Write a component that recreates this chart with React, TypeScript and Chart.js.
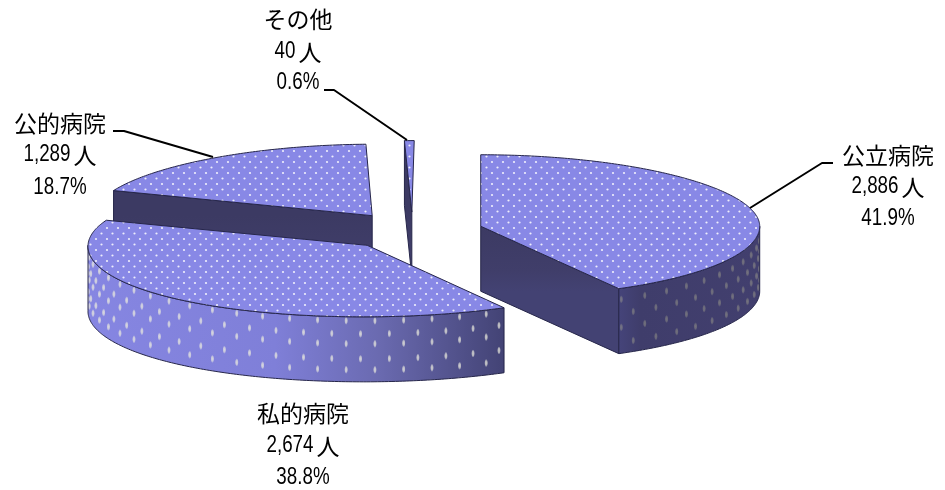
import React, { useEffect, useRef } from "react";
import Chart from "chart.js/auto";

// Staff counts by employer type
const categories = ["公立病院", "私的病院", "公的病院", "その他"];
const headcounts = [2886, 2674, 1289, 40];
const shareLabels = ["41.9%", "38.8%", "18.7%", "0.6%"];

// Label placement: centre x and the y of each of the three lines
const labelCentres = [888, 303, 60, 298];
const labelRows = [
  [155, 187, 219],
  [413, 446, 478],
  [123, 155, 188],
  [19, 52, 83],
];
const leaderLines = [
  [[833, 163], [822, 163], [750, 208]],
  [],
  [[113, 131], [124, 131], [213, 157]],
  [[324, 90], [334, 90], [407, 140]],
];

// 3D projection of the pie
const RX = 279;
const RY = 71.5;
const EXPLODE = 70;
const EXPLODE_TILT = 0.27;
const DEPTH = 65;
const VANISH_X = 480;
const CONVERGE = 0.023;

const CJK_FONT = '23px "Noto Sans CJK JP", sans-serif';
const DIGIT_FONT = '23.5px "Liberation Sans", sans-serif';
const DIGIT_SQUEEZE = 0.8;

function makeDotPattern(ctx: CanvasRenderingContext2D) {
  const tile = document.createElement("canvas");
  tile.width = 11;
  tile.height = 11;
  const t = tile.getContext("2d")!;
  t.fillStyle = "#8888e6";
  t.fillRect(0, 0, 11, 11);
  t.fillStyle = "rgba(255,255,255,0.85)";
  for (const [x, y] of [[2.5, 2.5], [8, 8]]) {
    t.beginPath();
    t.ellipse(x, y, 1.1, 0.9, 0, 0, Math.PI * 2);
    t.fill();
  }
  return ctx.createPattern(tile, "repeat")!;
}

// Draws one centred label line: squeezed Latin digits followed by any CJK run
function drawLabelLine(ctx: CanvasRenderingContext2D, text: string, cx: number, y: number) {
  const m = text.match(/^([0-9.,%]*)(.*)$/)!;
  const latin = m[1];
  const cjk = m[2];
  ctx.font = DIGIT_FONT;
  const lw = ctx.measureText(latin).width * DIGIT_SQUEEZE;
  ctx.font = CJK_FONT;
  const cw = ctx.measureText(cjk).width;
  const gap = latin && cjk ? 3 : 0;
  const left = cx - (lw + gap + cw) / 2;
  ctx.textAlign = "left";
  ctx.textBaseline = "middle";
  if (latin) {
    ctx.save();
    ctx.font = DIGIT_FONT;
    ctx.translate(left, y);
    ctx.scale(DIGIT_SQUEEZE, 1);
    ctx.fillText(latin, 0, 0);
    ctx.restore();
  }
  if (cjk) {
    ctx.font = CJK_FONT;
    ctx.fillText(cjk, left + lw + gap, y);
  }
}

const pie3d = {
  id: "pie3d",
  beforeDatasetsDraw(chart: any) {
    const ctx: CanvasRenderingContext2D = chart.ctx;
    const arcs = chart.getDatasetMeta(0).data;
    const pattern = makeDotPattern(ctx);
    const order = arcs
      .map((_: any, i: number) => i)
      .sort((a: number, b: number) => {
        const m = (k: number) => (arcs[k].startAngle + arcs[k].endAngle) / 2;
        return Math.sin(m(a)) - Math.sin(m(b));
      });

    for (const i of order) {
      const arc = arcs[i];
      const { startAngle: a0, endAngle: a1, x: cx, y: cy, outerRadius: R } = arc;
      const sx = RX / R;
      const sy = RY / R;
      const mid = (a0 + a1) / 2;
      const ax = cx + Math.cos(mid) * EXPLODE;
      const ay = cy + Math.sin(mid) * EXPLODE * EXPLODE_TILT;

      // Far points lean slightly toward the vanishing column; height only moves y
      const project = (x: number, y: number, h: number): [number, number] => {
        const d = (y - cy) / RY;
        const f = 1 + CONVERGE * d * Math.abs(d);
        return [VANISH_X + (x - VANISH_X) * f, y + h];
      };
      const rim = (a: number, h = 0) =>
        project(ax + Math.cos(a) * R * sx, ay + Math.sin(a) * R * sy, h);
      const apex = (h = 0) => project(ax, ay, h);

      const trace = (pts: [number, number][]) => {
        ctx.beginPath();
        pts.forEach(([x, y], k) => (k ? ctx.lineTo(x, y) : ctx.moveTo(x, y)));
        ctx.closePath();
      };
      const sweep = (from: number, to: number, h = 0) => {
        const n = Math.max(2, Math.ceil(Math.abs(to - from) * 80));
        const out: [number, number][] = [];
        for (let k = 0; k <= n; k++) out.push(rim(from + ((to - from) * k) / n, h));
        return out;
      };

      ctx.lineJoin = "round";
      ctx.lineWidth = 1;
      ctx.strokeStyle = "#26264a";

      // Flat faces left by the cut, where they turn toward the viewer
      const cuts: number[] = [];
      if (Math.sin(a0 - Math.PI / 2) > 0.001) cuts.push(a0);
      if (Math.sin(a1 + Math.PI / 2) > 0.001) cuts.push(a1);
      for (const a of cuts) {
        trace([apex(), rim(a), rim(a, DEPTH), apex(DEPTH)]);
        const g = ctx.createLinearGradient(0, apex()[1], 0, apex(DEPTH)[1]);
        g.addColorStop(0, "#3c3a63");
        g.addColorStop(0.7, "#403e6a");
        g.addColorStop(1, "#434273");
        ctx.fillStyle = g;
        ctx.fill();
        ctx.stroke();
      }

      // Outer wall of the slice: the part of the rim on the near side
      const from = Math.max(a0, 0);
      const to = Math.min(a1, Math.PI);
      if (to > from) {
        const top = sweep(from, to);
        const bottom = sweep(to, from, DEPTH);
        ctx.save();
        trace([...top, ...bottom]);
        const xs = top.map((p) => p[0]);
        const xMin = Math.min(...xs);
        const xMax = Math.max(...xs);
        const g = ctx.createLinearGradient(xMin, 0, xMax, 0);
        const lit = i === 1;
        if (lit) {
          g.addColorStop(0, "#8686e2");
          g.addColorStop(0.45, "#7f7fd8");
          g.addColorStop(0.7, "#6a6ab0");
          g.addColorStop(1, "#434375");
        } else {
          g.addColorStop(0, "#45447a");
          g.addColorStop(0.15, "#3f3d6b");
          g.addColorStop(1, "#423f6e");
        }
        ctx.fillStyle = g;
        ctx.fill();
        ctx.save();
        ctx.clip();
        // Stretched dots following the curve of the wall
        const step = 0.05;
        let col = 0;
        for (let a = to - 0.01; a > from; a -= step, col++) {
          const rows = lit
            ? col % 2 ? [17, 42] : [4, 27, 53]
            : col % 2 ? [25, 54] : [11, 39];
          for (const dy of rows) {
            const [x, y] = rim(a, dy);
            const c = lit ? "236,236,222" : "190,190,150";
            const al = lit ? 0.8 : 0.4;
            ctx.save();
            ctx.translate(x, y);
            ctx.scale(1, 2.2);
            const d = ctx.createRadialGradient(0, 0, 0, 0, 0, 1.9);
            d.addColorStop(0, `rgba(${c},${al})`);
            d.addColorStop(0.55, `rgba(${c},${al * 0.8})`);
            d.addColorStop(1, `rgba(${c},0)`);
            ctx.fillStyle = d;
            ctx.beginPath();
            ctx.arc(0, 0, 1.9, 0, Math.PI * 2);
            ctx.fill();
            ctx.restore();
          }
        }
        ctx.restore();
        trace([...top, ...bottom]);
        ctx.stroke();
        ctx.restore();
      }

      // Top of the slice
      trace([apex(), ...sweep(a0, a1)]);
      ctx.fillStyle = pattern;
      ctx.fill();
      ctx.stroke();
    }
    return false;
  },
  afterDraw(chart: any) {
    const ctx: CanvasRenderingContext2D = chart.ctx;
    ctx.save();
    // Leader lines
    ctx.strokeStyle = "#000";
    ctx.lineWidth = 2;
    for (const line of leaderLines) {
      if (!line.length) continue;
      ctx.beginPath();
      line.forEach(([x, y], k) => (k ? ctx.lineTo(x, y) : ctx.moveTo(x, y)));
      ctx.stroke();
    }
    // Three-line labels: name, headcount, share
    ctx.fillStyle = "#000";
    categories.forEach((name, i) => {
      const lines = [name, `${headcounts[i].toLocaleString("en-US")}人`, shareLabels[i]];
      lines.forEach((text, k) => drawLabelLine(ctx, text, labelCentres[i], labelRows[i][k]));
    });
    ctx.restore();
  },
};

export default function App() {
  const ref = useRef<HTMLCanvasElement>(null);
  useEffect(() => {
    const chart = new Chart(ref.current!, {
      type: "pie",
      data: {
        labels: categories,
        datasets: [{ data: headcounts, borderWidth: 0, hoverOffset: 0 }],
      },
      options: {
        animation: false,
        responsive: false,
        rotation: 0,
        layout: { padding: { left: 0, right: 119, top: 0, bottom: 28 } },
        plugins: { legend: { display: false }, tooltip: { enabled: false } },
      },
      plugins: [pie3d],
    } as any);
    return () => chart.destroy();
  }, []);
  return (
    <canvas
      ref={ref}
      width={945}
      height={490}
      style={{ position: "absolute", left: 0, top: 0, display: "block" }}
    />
  );
}
